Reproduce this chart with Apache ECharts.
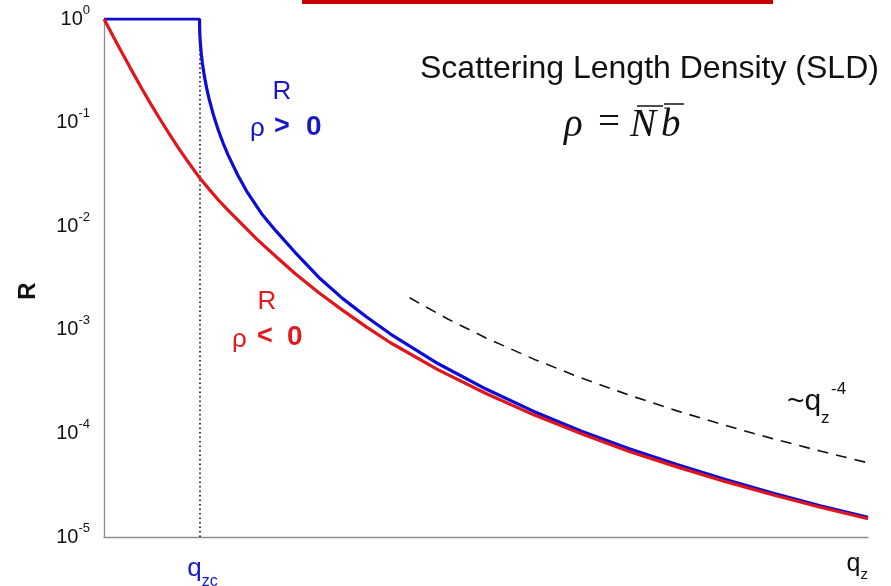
<!DOCTYPE html>
<html>
<head>
<meta charset="utf-8">
<script src="https://cdn.jsdelivr.net/npm/echarts@6/dist/echarts.min.js"></script>
<style>
  html, body { margin: 0; padding: 0; background: #fff; }
  #chart { width: 891px; height: 586px; }
</style>
</head>
<body>
<div id="chart"></div>
<script>
// Critical wave vector (in plot units of q_z)
const qCritical = 1;

// Reflectivity for a positive SLD film (total reflection below q_zc)
const qBlue = [0, 1, 1.002, 1.005, 1.01, 1.02, 1.03, 1.05, 1.075, 1.1,
  1.15, 1.2, 1.25, 1.3, 1.4, 1.5, 1.65, 1.8, 2.0, 2.25, 2.5, 2.75, 3.0,
  3.5, 4.0, 4.5, 5.0, 5.5, 6.0, 6.5, 7.0, 7.5, 8.0];
const rBlue = [1, 1, 0.78, 0.67, 0.57, 0.45, 0.376, 0.284, 0.215, 0.17,
  0.115, 0.083, 0.0625, 0.0485, 0.0312, 0.0213, 0.0132, 0.009, 0.0056, 0.0032, 0.002, 0.00133, 0.00091,
  0.00047, 0.000268, 0.000163, 0.000105, 7.1e-5, 5.0e-5, 3.6e-5, 2.66e-5, 2.0e-5, 1.55e-5];

// Reflectivity for a negative SLD film (no total reflection)
const qRed = [0, 0.1, 0.2, 0.3, 0.4, 0.5, 0.6, 0.7, 0.8, 0.9, 1.0,
  1.1, 1.2, 1.3, 1.4, 1.6, 1.8, 2.0, 2.25, 2.5, 2.75, 3.0, 3.5, 4.0, 4.5, 5.0,
  5.5, 6.0, 6.5, 7.0, 7.5, 8.0];
const rRed = [1, 0.671, 0.452, 0.307, 0.21, 0.146, 0.103, 0.0735, 0.0534, 0.0394, 0.0294,
  0.0228, 0.0178, 0.0142, 0.0115, 0.0075, 0.0051, 0.0035, 0.00228, 0.00154, 0.00106, 0.00075, 0.00041, 0.000243, 0.000151, 9.9e-5,
  6.7e-5, 4.75e-5, 3.44e-5, 2.56e-5, 1.94e-5, 1.5e-5];

// Porod-like asymptote guide ~ q_z^-4
const qGuide = [3.2, 3.6, 4, 4.5, 5, 5.5, 6, 6.5, 7, 7.5, 8];
const rGuide = [2.04e-3, 1.27e-3, 8.35e-4, 5.21e-4, 3.42e-4, 2.34e-4, 1.65e-4, 1.2e-4, 8.9e-5, 6.75e-5, 5.2e-5];

// Decade exponents shown on the R axis
const yExponents = [0, -1, -2, -3, -4, -5];

const pairs = (xs, ys) => xs.map((x, i) => [x, ys[i]]);

const BLUE = '#0c0cd6';
const RED = '#e0161c';
const BLUE_TXT = '#1818c8';
const RED_TXT = '#e21a1f';
const SANS = 'Liberation Sans, Arial, sans-serif';
const SERIF = 'Liberation Serif, Times New Roman, serif';

const chart = echarts.init(document.getElementById('chart'), null, { renderer: 'canvas' });

function txt(x, y, text, font, fill, align) {
  return {
    type: 'text', x: x, y: y,
    style: { text: text, font: font, fill: fill, align: align || 'left', verticalAlign: 'middle' }
  };
}

chart.setOption({
  backgroundColor: '#fff',
  animation: false,
  grid: { left: 104, right: 23, top: 19, bottom: 49, containLabel: false, outerBoundsMode: 'none' },
  xAxis: {
    type: 'value',
    min: 0,
    max: 8,
    splitLine: { show: false },
    axisTick: { show: false },
    axisLine: { show: true, onZero: false, lineStyle: { color: '#8c8c8c', width: 1.3 } },
    axisLabel: {
      customValues: [qCritical],
      margin: 11,
      formatter: () => '{q|q}{s|zc}',
      rich: {
        q: { fontFamily: SANS, fontSize: 26, color: BLUE_TXT, padding: [0, 0, 0, 6] },
        s: { fontFamily: SANS, fontSize: 16, color: BLUE_TXT, padding: [26, 0, 0, 0] }
      }
    },
    name: '{q|q}{s|z}',
    nameLocation: 'end',
    nameGap: 0,
    nameTextStyle: {
      align: 'right',
      verticalAlign: 'top',
      padding: [10, 0, 0, 0],
      rich: {
        q: { fontFamily: SANS, fontSize: 25, color: '#111' },
        s: { fontFamily: SANS, fontSize: 15, color: '#111', padding: [20, 0, 0, 0] }
      }
    }
  },
  yAxis: {
    type: 'log',
    logBase: 10,
    min: 1e-5,
    max: 1,
    splitLine: { show: false },
    axisTick: { show: false },
    axisLine: { show: true, lineStyle: { color: '#8c8c8c', width: 1.3 } },
    axisLabel: {
      customValues: yExponents.map(e => Math.pow(10, e)),
      margin: 14,
      formatter: v => '{b|10}{s|' + Math.round(Math.log10(v)) + '}',
      rich: {
        b: { fontFamily: SANS, fontSize: 20, color: '#111' },
        s: { fontFamily: SANS, fontSize: 13, color: '#111', padding: [0, 0, 18, 0] }
      }
    },
    name: 'R',
    nameLocation: 'middle',
    nameGap: 64,
    nameTextStyle: {
      fontFamily: SANS, fontSize: 24, fontWeight: 'bold', color: '#111',
      padding: [0, 26, 0, 0]
    }
  },
  series: [
    {
      name: 'R (rho > 0)',
      type: 'line',
      data: pairs(qBlue, rBlue),
      showSymbol: false,
      lineStyle: { color: BLUE, width: 3.2 },
      z: 3,
      markLine: {
        silent: true,
        symbol: 'none',
        label: { show: false },
        lineStyle: { color: '#111', type: [1.5, 3], width: 1.6 },
        data: [{ xAxis: qCritical }],
        z: 1
      }
    },
    {
      name: 'R (rho < 0)',
      type: 'line',
      data: pairs(qRed, rRed),
      showSymbol: false,
      lineStyle: { color: RED, width: 3.2 },
      z: 4
    },
    {
      name: 'q^-4',
      type: 'line',
      data: pairs(qGuide, rGuide),
      showSymbol: false,
      lineStyle: { color: '#111', type: [11, 8], width: 1.6 },
      z: 2
    }
  ],
  graphic: [
    // red header bar
    { type: 'rect', shape: { x: 302, y: 0, width: 471, height: 4 }, style: { fill: '#c80000' } },
    txt(420, 69, 'Scattering Length Density (SLD)', '32px ' + SANS, '#111'),
    // rho = N-bar b-bar
    txt(564, 126, 'ρ', 'italic 39px ' + SERIF, '#111'),
    txt(598, 124, '=', '39px ' + SERIF, '#111'),
    txt(630, 126, 'N', 'italic 39px ' + SERIF, '#111'),
    txt(661, 126, 'b', 'italic 39px ' + SERIF, '#111'),
    { type: 'line', shape: { x1: 637, y1: 106, x2: 663, y2: 106 }, style: { stroke: '#111', lineWidth: 1.5 } },
    { type: 'line', shape: { x1: 664, y1: 104, x2: 684, y2: 104 }, style: { stroke: '#111', lineWidth: 1.5 } },
    // blue curve label
    txt(282, 92, 'R', '26px ' + SANS, BLUE_TXT, 'center'),
    txt(250, 129, 'ρ', '26px ' + SANS, BLUE_TXT),
    txt(274, 127, '>', 'bold 27px ' + SANS, BLUE_TXT),
    txt(306, 127, '0', 'bold 28px ' + SANS, BLUE_TXT),
    // red curve label
    txt(267, 302, 'R', '26px ' + SANS, RED_TXT, 'center'),
    txt(232, 340, 'ρ', '26px ' + SANS, RED_TXT),
    txt(257, 337, '<', 'bold 27px ' + SANS, RED_TXT),
    txt(287, 337, '0', 'bold 28px ' + SANS, RED_TXT),
    // asymptote label
    txt(787, 402, '~q', '30px ' + SANS, '#111'),
    txt(821, 418, 'z', '17px ' + SANS, '#111'),
    txt(831, 389, '-4', '17px ' + SANS, '#111')
  ]
});
</script>
</body>
</html>
